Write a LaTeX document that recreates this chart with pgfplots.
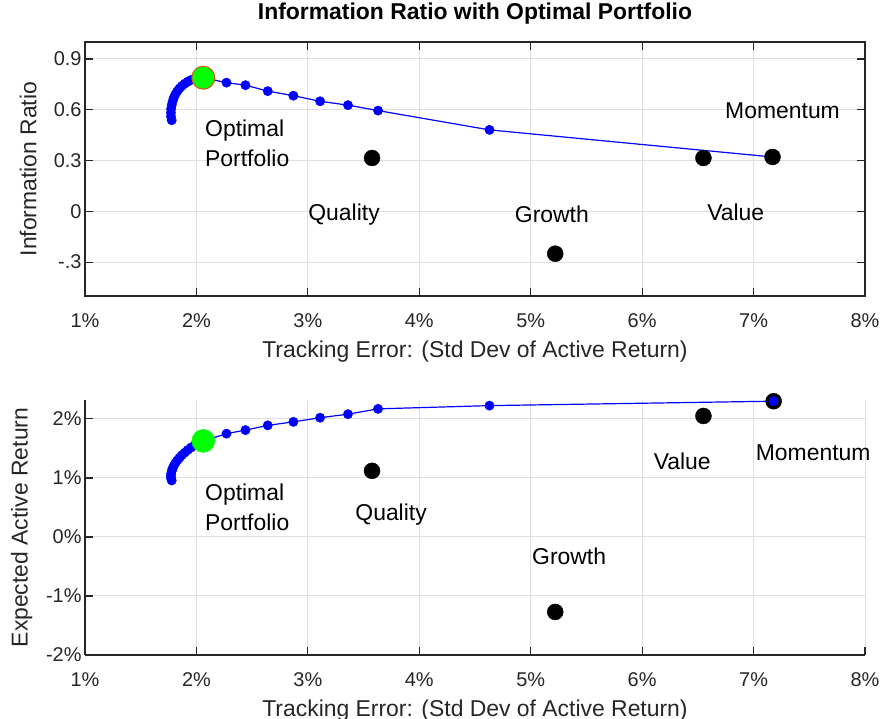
\documentclass[border=0pt]{standalone}
\usepackage{fontspec}
\setmainfont{Liberation Sans}
\usepackage{pgfplots}
\pgfplotsset{compat=1.18}

\definecolor{axgray}{RGB}{38,38,38}
\definecolor{gridgray}{RGB}{223,223,223}
\definecolor{optred}{RGB}{217,83,25}
\definecolor{mblue}{RGB}{0,0,255}
\definecolor{mgreen}{RGB}{0,255,0}

\tikzset{txt/.style={font=\fontsize{23}{30}\selectfont, text=black, inner sep=0pt}}

\pgfplotsset{
  mstyle/.style={
    scale only axis, width=780bp, clip=false,
    xmin=1, xmax=8, xtick={1,2,3,4,5,6,7,8},
    xticklabels={1\%,2\%,3\%,4\%,5\%,6\%,7\%,8\%},
    tick align=inside, major tick length=8bp,
    xmajorgrids, ymajorgrids,
    grid style={gridgray, line width=1bp},
    axis line style={axgray, line width=1.2bp},
    tick style={axgray, line width=1.2bp},
    tick label style={font=\fontsize{20}{24}\selectfont, text=axgray},
    label style={font=\fontsize{23}{28}\selectfont, text=axgray},
    xticklabel style={anchor=center, yshift=-25bp},
    xlabel={Tracking Error: (Std Dev of Active Return)},
  },
  frontier/.style={mblue, line width=1.2bp, mark=*, mark size=4.7bp,
    mark options={solid, fill=mblue, draw=mblue, line width=0.4bp}},
  factor/.style={only marks, mark=*, mark size=8bp,
    mark options={fill=black, draw=black}},
}

\begin{document}
\begin{tikzpicture}

% ---- top panel: information ratio
\begin{axis}[
  mstyle,
  at={(85bp,-296bp)}, anchor=south west,
  height=254bp,
  ymin=-0.5, ymax=1.0,
  ytick={-0.3,0,0.3,0.6,0.9},
  yticklabels={-.3,0,0.3,0.6,0.9},
  ylabel={Information Ratio},
  ylabel style={at={(axis description cs:-0.073,0.5)}, anchor=center},
  xlabel style={at={(axis description cs:0.5,-0.2205)}, anchor=center},
  title={\bfseries Information Ratio with Optimal Portfolio},
  title style={at={(axis description cs:0.5,1)}, anchor=center, yshift=22bp,
    font=\fontsize{23}{28}\selectfont, text=black},
]
\addplot [frontier] coordinates {
(1.778,0.538) (1.772,0.560) (1.771,0.582) (1.773,0.605) (1.778,0.628)
(1.786,0.650) (1.797,0.671) (1.811,0.691) (1.828,0.709) (1.848,0.726)
(1.870,0.741) (1.895,0.754) (1.922,0.766) (1.952,0.776) (1.985,0.783)
(2.020,0.787) (2.062,0.789) (2.27,0.760) (2.44,0.745) (2.64,0.710)
(2.87,0.683) (3.11,0.650) (3.36,0.627) (3.63,0.595) (4.63,0.481)
(7.17,0.321)
};
\addplot [only marks, mark=*, mark size=11.5bp,
  mark options={fill=mgreen, draw=optred, line width=1bp}]
  coordinates {(2.062,0.789)};
\addplot [factor] coordinates {
(3.576,0.315) (5.22,-0.25) (6.55,0.315) (7.17,0.321)
};
\node[txt, anchor=west, align=left] at (axis cs:2.077,0.403) {Optimal\\Portfolio};
\node[txt] at (axis cs:3.325,-0.021) {Quality};
\node[txt] at (axis cs:5.19,-0.015) {Growth};
\node[txt] at (axis cs:6.84,-0.003) {Value};
\node[txt] at (axis cs:7.26,0.597) {Momentum};
\end{axis}

% ---- bottom panel: expected active return
\begin{axis}[
  mstyle,
  at={(85bp,-655bp)}, anchor=south west,
  height=255bp,
  axis x line*=bottom, axis y line*=left,
  ymin=-2, ymax=2.32,
  ytick={-2,-1,0,1,2},
  yticklabels={-2\%,-1\%,0\%,1\%,2\%},
  ylabel={Expected Active Return},
  ylabel style={at={(axis description cs:-0.081,0.5)}, anchor=center},
  xlabel style={at={(axis description cs:0.5,-0.2196)}, anchor=center},
]
\addplot [factor] coordinates {
(3.576,1.12) (5.22,-1.27) (6.55,2.05) (7.18,2.30)
};
\addplot [frontier] coordinates {
(1.778,0.957) (1.772,0.992) (1.771,1.031) (1.773,1.073) (1.778,1.117)
(1.786,1.161) (1.797,1.206) (1.811,1.251) (1.828,1.296) (1.848,1.342)
(1.870,1.386) (1.895,1.429) (1.922,1.472) (1.952,1.515) (1.985,1.554)
(2.020,1.590) (2.062,1.627) (2.27,1.75) (2.44,1.81) (2.64,1.89)
(2.87,1.95) (3.11,2.02) (3.36,2.08) (3.63,2.17) (4.63,2.225)
(7.18,2.30)
};
\addplot [only marks, mark=*, mark size=11.5bp,
  mark options={fill=mgreen, draw=mgreen}]
  coordinates {(2.062,1.627)};
\node[txt, anchor=west, align=left] at (axis cs:2.077,0.508) {Optimal\\Portfolio};
\node[txt] at (axis cs:3.747,0.381) {Quality};
\node[txt] at (axis cs:5.345,-0.327) {Growth};
\node[txt] at (axis cs:6.36,1.275) {Value};
\node[txt] at (axis cs:7.535,1.427) {Momentum};
\end{axis}

\pgfresetboundingbox
\path[use as bounding box] (0bp,0bp) rectangle (881bp,-719bp);
\end{tikzpicture}
\end{document}
